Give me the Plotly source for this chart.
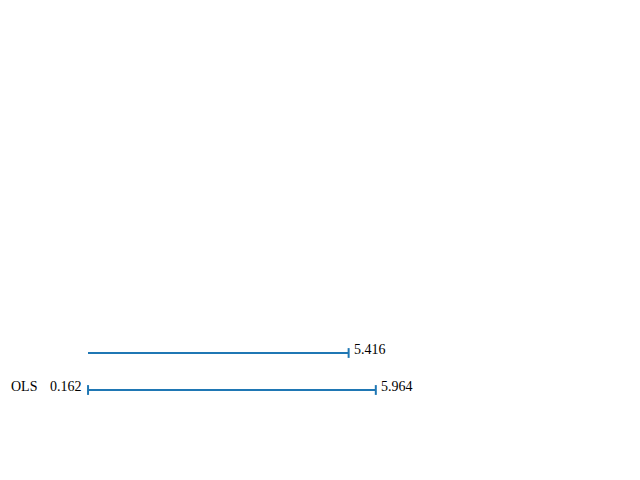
import plotly.graph_objects as go

models = ['Lasso', 'OLS']
lower = [0.038, 0.162]
upper = [5.416, 5.964]
ypos = [1, 0]

color = '#1f77b4'
font = dict(family='Liberation Serif, Times New Roman, serif', size=14, color='black')

fig = go.Figure()
annotations = []
for name, lo, hi, y in zip(models, lower, upper, ypos):
    fig.add_trace(go.Scatter(
        x=[lo, hi], y=[y, y], mode='lines+markers',
        line=dict(color=color, width=2),
        marker=dict(symbol='line-ns-open', size=7, color=color, line=dict(width=2, color=color)),
        showlegend=False, cliponaxis=False,
    ))
    annotations.append(dict(x=lo, y=y, text=f'{lo:.3f}', showarrow=False,
                            xanchor='right', xshift=-4, yshift=4, font=font))
    annotations.append(dict(x=hi, y=y, text=f'{hi:.3f}', showarrow=False,
                            xanchor='left', xshift=3, yshift=4, font=font))
    annotations.append(dict(x=lo, y=y, text=name, showarrow=False,
                            xanchor='right', xshift=-49, yshift=4, font=font))

fig.update_layout(
    width=640, height=480,
    margin=dict(l=80, r=0, t=0, b=0),
    paper_bgcolor='white', plot_bgcolor='white',
    xaxis=dict(range=[8 / 49.6, 568 / 49.6], visible=False),
    yaxis=dict(range=[-98 / 37, 1 + 345 / 37], visible=False),
    annotations=annotations,
)

fig.write_html('out.html')
